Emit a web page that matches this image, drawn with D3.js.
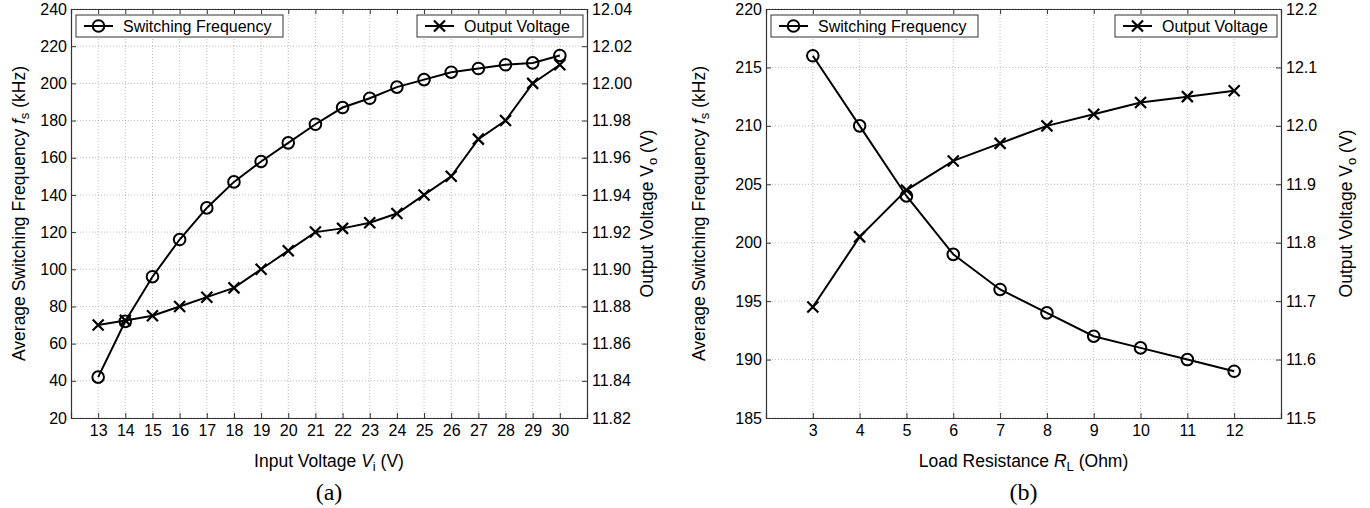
<!DOCTYPE html>
<html><head><meta charset="utf-8">
<script src="https://cdn.jsdelivr.net/npm/d3@7"></script>
<style>
html,body{margin:0;padding:0;background:#fff;}
svg{display:block;font-family:"Liberation Sans",Arial,sans-serif;}
</style></head><body>
<svg id="chart" width="1370" height="508"></svg>
<script>
// ---- Data (a) ----
const vinCategories = [13,14,15,16,17,18,19,20,21,22,23,24,25,26,27,28,29,30];
const freqA = [42,72,96,116,133,147,158,168,178,187,192,198,202,206,208,210,211,215];
const voutA = [11.870,11.8725,11.875,11.880,11.885,11.890,11.900,11.910,11.920,11.922,11.925,11.930,11.940,11.950,11.970,11.980,12.000,12.010];
const leftTicksA = [20,40,60,80,100,120,140,160,180,200,220,240];
const rightTicksA = [11.82,11.84,11.86,11.88,11.90,11.92,11.94,11.96,11.98,12.00,12.02,12.04];
// ---- Data (b) ----
const rlCategories = [3,4,5,6,7,8,9,10,11,12];
const freqB = [216,210,204,199,196,194,192,191,190,189];
const voutB = [11.69,11.81,11.89,11.94,11.97,12.00,12.02,12.04,12.05,12.06];
const leftTicksB = [185,190,195,200,205,210,215,220];
const rightTicksB = [11.5,11.6,11.7,11.8,11.9,12.0,12.1,12.2];
const seriesNames = ["Switching Frequency","Output Voltage"];

const svg = d3.select("#chart");
const FS = 16, TS = 17.5;

function panel(cfg){
  const g = svg.append("g");
  const x = d3.scaleLinear().domain(cfg.xDomain).range([cfg.x0,cfg.x1]);
  const yL = d3.scaleLinear().domain(cfg.yLDomain).range([cfg.y1,cfg.y0]);
  const yR = d3.scaleLinear().domain(cfg.yRDomain).range([cfg.y1,cfg.y0]);
  // grid
  const grid = g.append("g").attr("stroke","#aaa").attr("stroke-width",0.8).attr("stroke-dasharray","1,2");
  cfg.xs.forEach(v=>grid.append("line").attr("x1",x(v)).attr("x2",x(v)).attr("y1",cfg.y0).attr("y2",cfg.y1));
  cfg.lt.forEach(v=>grid.append("line").attr("x1",cfg.x0).attr("x2",cfg.x1).attr("y1",yL(v)).attr("y2",yL(v)));
  // axes
  const axB = d3.axisBottom(x).tickValues(cfg.xs).tickSize(-5).tickPadding(7).tickFormat(d3.format("d"));
  const axT = d3.axisTop(x).tickValues(cfg.xs).tickSize(-5).tickFormat("");
  const axL = d3.axisLeft(yL).tickValues(cfg.lt).tickSize(-5).tickPadding(4).tickFormat(d3.format("d"));
  const axR = d3.axisRight(yR).tickValues(cfg.rt).tickSize(-5).tickPadding(5).tickFormat(d3.format(cfg.rFmt));
  [[axB,`translate(0,${cfg.y1})`],[axT,`translate(0,${cfg.y0})`],[axL,`translate(${cfg.x0},0)`],[axR,`translate(${cfg.x1},0)`]].forEach(([a,t])=>{
    const ag = g.append("g").attr("transform",t).call(a);
    ag.select(".domain").attr("stroke","#333").attr("stroke-width",1.2);
    ag.selectAll(".tick line").attr("stroke","#333").attr("stroke-width",1);
    ag.selectAll("text").attr("font-size",FS).attr("fill","#000").attr("font-family","Liberation Sans, Arial, sans-serif");
  });
  // lines
  const lineL = d3.line().x((d,i)=>x(cfg.xs[i])).y(d=>yL(d));
  const lineR = d3.line().x((d,i)=>x(cfg.xs[i])).y(d=>yR(d));
  g.append("path").attr("d",lineL(cfg.freq)).attr("fill","none").attr("stroke","#000").attr("stroke-width",2);
  g.append("path").attr("d",lineR(cfg.vout)).attr("fill","none").attr("stroke","#000").attr("stroke-width",2);
  cfg.freq.forEach((d,i)=>circ(g,x(cfg.xs[i]),yL(d)));
  cfg.vout.forEach((d,i)=>cross(g,x(cfg.xs[i]),yR(d)));
  // legends
  legend(g,cfg.x0+5,cfg.y0+6,207,seriesNames[0],"o");
  legend(g,cfg.x1-4-cfg.leg2w,cfg.y0+6,cfg.leg2w,seriesNames[1],"x");
  // axis labels
  const cx = (cfg.x0+cfg.x1)/2, cy=(cfg.y0+cfg.y1)/2;
  const xl = g.append("text").attr("x",cx).attr("y",cfg.y1+49).attr("text-anchor","middle").attr("font-size",TS);
  xl.append("tspan").text(cfg.xLabel[0]+" ");
  xl.append("tspan").attr("font-style","italic").text(cfg.xLabel[1]);
  xl.append("tspan").attr("font-size",13).attr("dy",4).text(cfg.xLabel[2]);
  xl.append("tspan").attr("dy",-4).text(" "+cfg.xLabel[3]);
  const yl = g.append("text").attr("transform",`translate(${cfg.x0-cfg.lLabOff},${cy}) rotate(-90)`).attr("text-anchor","middle").attr("font-size",TS);
  yl.append("tspan").text("Average Switching Frequency ");
  yl.append("tspan").attr("font-style","italic").text("f");
  yl.append("tspan").attr("font-size",13).attr("dy",4).text("s");
  yl.append("tspan").attr("dy",-4).text(" (kHz)");
  const yr = g.append("text").attr("transform",`translate(${cfg.x1+cfg.rLabOff},${cy}) rotate(-90)`).attr("text-anchor","middle").attr("font-size",TS);
  yr.append("tspan").text("Output Voltage ");
  yr.append("tspan").text("V");
  yr.append("tspan").attr("font-size",13).attr("dy",4).text("o");
  yr.append("tspan").attr("dy",-4).text(" (V)");
  g.append("text").attr("x",cx).attr("y",500).attr("text-anchor","middle").attr("font-family","Liberation Serif, Times New Roman, serif").attr("font-size",24).text(cfg.caption);
}
function circ(g,cx,cy){ g.append("circle").attr("cx",cx).attr("cy",cy).attr("r",5.8).attr("fill","none").attr("stroke","#000").attr("stroke-width",2); }
function cross(g,cx,cy){ const s=5.5; g.append("path").attr("d",`M${cx-s},${cy-s}L${cx+s},${cy+s}M${cx-s},${cy+s}L${cx+s},${cy-s}`).attr("stroke","#000").attr("stroke-width",2.2); }
function legend(g,x,y,w,label,m){
  g.append("rect").attr("x",x).attr("y",y).attr("width",w).attr("height",22).attr("fill","#fff").attr("stroke","#333").attr("stroke-width",1);
  g.append("line").attr("x1",x+8).attr("x2",x+37).attr("y1",y+11).attr("y2",y+11).attr("stroke","#000").attr("stroke-width",2);
  if(m==="o") circ(g,x+22.5,y+11); else cross(g,x+22.5,y+11);
  g.append("text").attr("x",x+47).attr("y",y+17).attr("font-size",FS).text(label);
}

panel({x0:71,x1:587,y0:9,y1:418,xDomain:[12,31],yLDomain:[20,240],yRDomain:[11.82,12.04],
  xs:vinCategories,lt:leftTicksA,rt:rightTicksA,rFmt:".2f",freq:freqA,vout:voutA,
  xLabel:["Input Voltage","V","i","(V)"],caption:"(a)",leg2w:166,lLabOff:46,rLabOff:66});
panel({x0:766,x1:1281,y0:9,y1:418,xDomain:[2,13],yLDomain:[185,220],yRDomain:[11.5,12.2],
  xs:rlCategories,lt:leftTicksB,rt:rightTicksB,rFmt:".1f",freq:freqB,vout:voutB,
  xLabel:["Load Resistance","R","L","(Ohm)"],caption:"(b)",leg2w:162,lLabOff:61,rLabOff:71});
</script>
</body></html>
